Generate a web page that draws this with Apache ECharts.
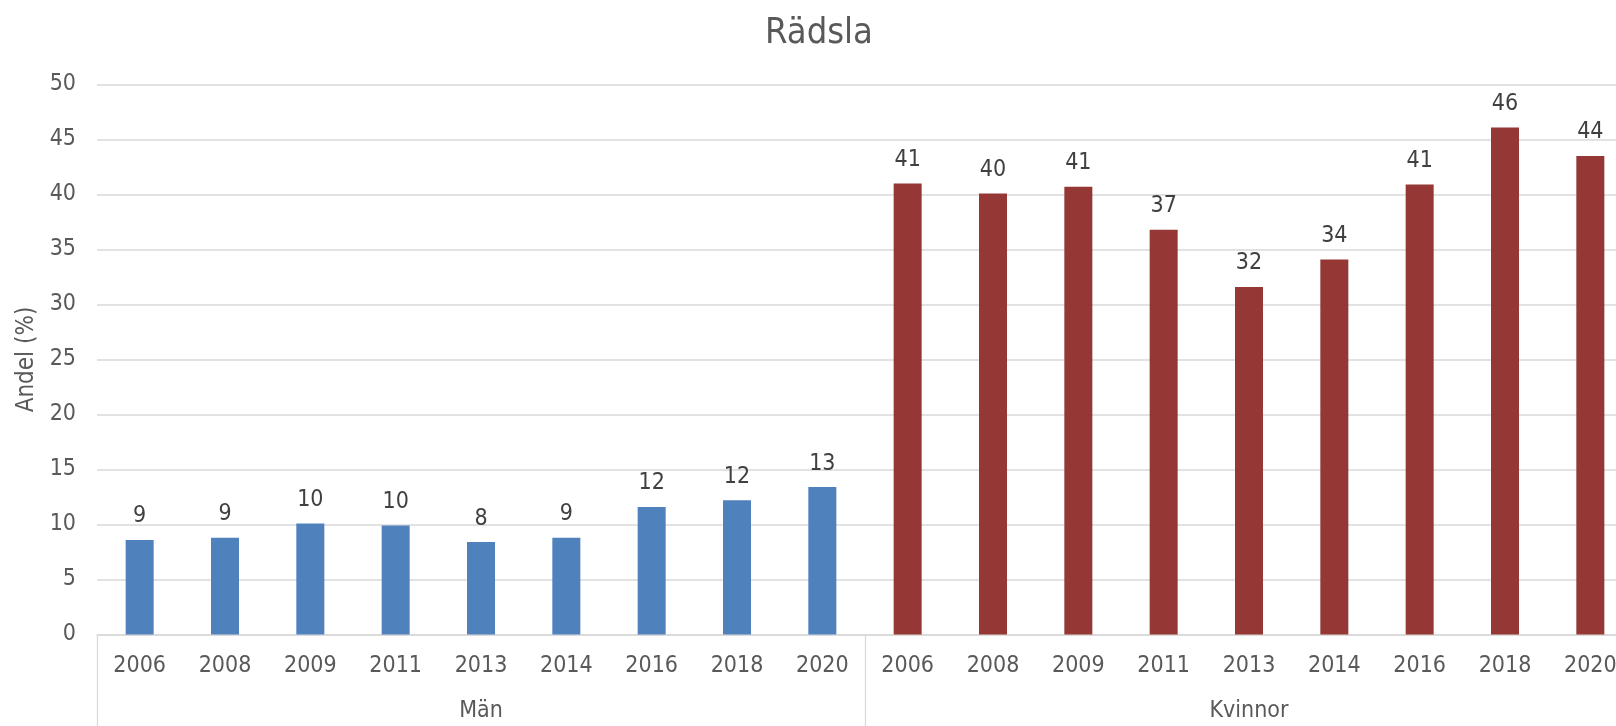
<!DOCTYPE html>
<html>
<head>
<meta charset="utf-8">
<script src="https://cdn.jsdelivr.net/npm/echarts@6/dist/echarts.min.js"></script>
<style>
html,body{margin:0;padding:0;background:#fff;overflow:hidden;}
#chart{width:1616px;height:726px;}
</style>
</head>
<body>
<div id="chart"></div>
<script>
const title = 'Rädsla';
const yAxisName = 'Andel (%)';
const groups = ['Män', 'Kvinnor'];
const years = ['2006', '2008', '2009', '2011', '2013', '2014', '2016', '2018', '2020'];
const menValues = [8.6, 8.8, 10.1, 9.9, 8.4, 8.8, 11.6, 12.2, 13.4];
const womenValues = [41.0, 40.1, 40.7, 36.8, 31.6, 34.1, 40.9, 46.1, 43.5];

const FONT = '"DejaVu Sans Condensed", "DejaVu Sans", sans-serif';

const categories = [];
groups.forEach(g => years.forEach(y => categories.push(g + '|' + y)));
const menData = menValues.concat(years.map(() => null));
const womenData = years.map(() => null).concat(womenValues);

const labelOpt = {
  show: true,
  position: 'top',
  distance: 12,
  color: '#404040',
  fontFamily: FONT,
  fontSize: 23,
  formatter: p => Math.round(p.value)
};

const chart = echarts.init(document.getElementById('chart'), null, {renderer: 'canvas'});
chart.setOption({
  animation: false,
  backgroundColor: '#ffffff',
  title: {
    text: title,
    left: 814,
    textAlign: 'center',
    top: 11,
    textStyle: {fontFamily: FONT, fontSize: 36, fontWeight: 'normal', color: '#595959'}
  },
  grid: {left: 97, width: 1536, top: 84.5, bottom: 91.5, containLabel: false, outerBoundsMode: 'none'},
  xAxis: [
    {
      type: 'category',
      data: categories,
      position: 'bottom',
      axisLine: {show: true, lineStyle: {color: '#d9d9d9', width: 1.5}},
      axisTick: {show: false},
      axisLabel: {
        interval: 0, margin: 20, color: '#595959', fontFamily: FONT, fontSize: 23,
        formatter: v => v.split('|')[1]
      },
      splitLine: {show: false}
    },
    {
      type: 'category',
      data: groups,
      position: 'bottom',
      axisLine: {show: false},
      axisTick: {show: true, inside: false, length: 92, interval: 0, alignWithLabel: false,
        lineStyle: {color: '#d9d9d9', width: 1.3}},
      axisLabel: {interval: 0, margin: 65, color: '#595959', fontFamily: FONT, fontSize: 23},
      splitLine: {show: false}
    }
  ],
  yAxis: {
    type: 'value',
    min: 0, max: 50, interval: 5,
    name: yAxisName,
    nameLocation: 'middle',
    nameGap: 49,
    nameRotate: 90,
    nameTextStyle: {color: '#595959', fontFamily: FONT, fontSize: 24},
    axisLine: {show: false},
    axisTick: {show: false},
    axisLabel: {margin: 21, color: '#595959', fontFamily: FONT, fontSize: 23},
    splitLine: {lineStyle: {color: '#d9d9d9', width: 1.5}}
  },
  series: [
    {
      name: groups[0], type: 'bar', xAxisIndex: 0, data: menData,
      barWidth: 28, barGap: '-100%',
      itemStyle: {color: '#4f81bd'},
      label: labelOpt
    },
    {
      name: groups[1], type: 'bar', xAxisIndex: 0, data: womenData,
      barWidth: 28, barGap: '-100%',
      itemStyle: {color: '#953735'},
      label: labelOpt
    }
  ]
});
</script>
</body>
</html>
